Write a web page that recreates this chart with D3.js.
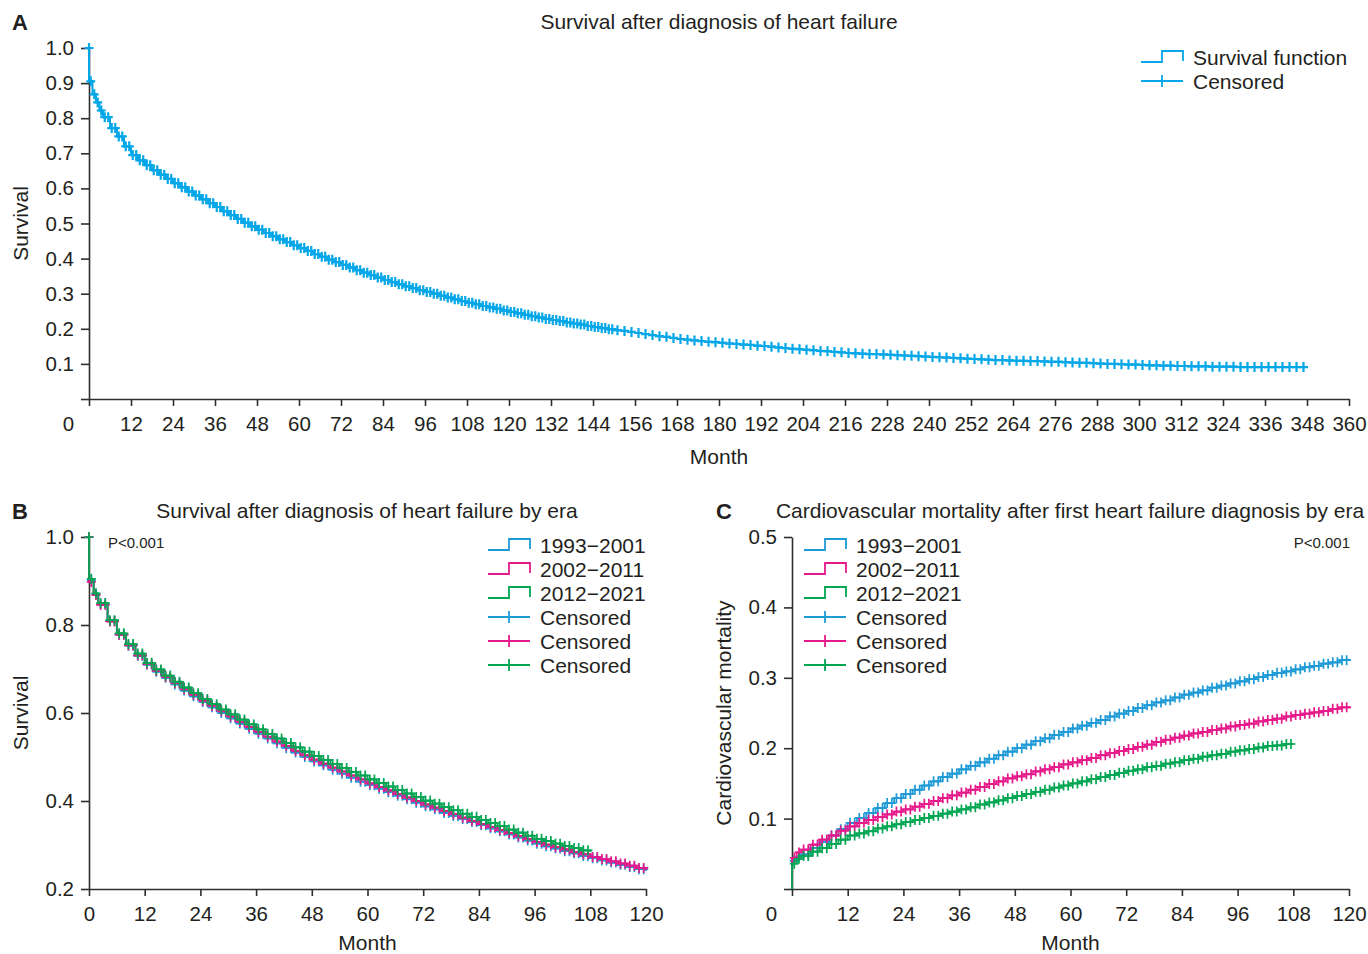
<!DOCTYPE html>
<html>
<head>
<meta charset="utf-8">
<script src="https://cdn.jsdelivr.net/npm/d3@7"></script>
<style>
body { margin: 0; background: #fff; }
text { font-family: "Liberation Sans", Arial, sans-serif; fill: #231f20; }
</style>
</head>
<body>
<script>
// ---- data ----
// panel A: overall survival, knots every 2 months after the first few
var monthsA = [0, 0, 1, 2, 3].concat(d3.range(4, 349, 2));
var survA = [1.0, 0.905, 0.868, 0.845, 0.822,
  0.803, 0.772, 0.748, 0.720, 0.695,
  0.680, 0.666, 0.652, 0.639, 0.627, 0.615,
  0.603, 0.591, 0.580, 0.569, 0.558, 0.547,
  0.535, 0.524, 0.513, 0.502, 0.492, 0.482,
  0.473, 0.464, 0.455, 0.447, 0.438, 0.430,
  0.422, 0.413, 0.405, 0.397, 0.390, 0.382,
  0.375, 0.367, 0.360, 0.353, 0.346, 0.339,
  0.333, 0.327, 0.321, 0.316, 0.310, 0.305,
  0.300, 0.294, 0.289, 0.284, 0.279, 0.274,
  0.270, 0.265, 0.261, 0.257, 0.252, 0.248,
  0.244, 0.240, 0.236, 0.232, 0.228, 0.225,
  0.222, 0.218, 0.215, 0.212, 0.208, 0.205,
  0.202, 0.199, 0.196, 0.194, 0.191, 0.188,
  0.185, 0.182, 0.179, 0.177, 0.174, 0.171,
  0.169, 0.167, 0.165, 0.163, 0.162, 0.160,
  0.158, 0.157, 0.155, 0.154, 0.152, 0.151,
  0.149, 0.147, 0.145, 0.143, 0.142, 0.140,
  0.139, 0.137, 0.136, 0.134, 0.133, 0.131,
  0.130, 0.129, 0.128, 0.128, 0.127, 0.126,
  0.125, 0.124, 0.123, 0.122, 0.121, 0.120,
  0.119, 0.118, 0.117, 0.116, 0.115, 0.114,
  0.113, 0.112, 0.111, 0.111, 0.110, 0.109,
  0.109, 0.108, 0.108, 0.107, 0.106, 0.106,
  0.105, 0.104, 0.103, 0.103, 0.102, 0.101,
  0.100, 0.100, 0.099, 0.098, 0.098, 0.097,
  0.096, 0.096, 0.095, 0.095, 0.094, 0.094,
  0.093, 0.093, 0.093, 0.092, 0.092, 0.092,
  0.092, 0.091, 0.091, 0.091, 0.091, 0.091,
  0.091, 0.091, 0.091, 0.091, 0.091, 0.091];

// panels B and C: by era
var eras = ["1993\u22122001", "2002\u22122011", "2012\u22122021"];
var monthsEra = [0, 0, 1].concat(d3.range(2, 121, 2));

var survB1993 = [1.0, 0.902, 0.870,
  0.847, 0.809, 0.778, 0.753, 0.730, 0.710,
  0.694, 0.680, 0.665, 0.651, 0.638, 0.625,
  0.613, 0.600, 0.588, 0.576, 0.564, 0.553,
  0.542, 0.531, 0.520, 0.510, 0.500, 0.490,
  0.481, 0.471, 0.462, 0.453, 0.444, 0.436,
  0.428, 0.420, 0.412, 0.404, 0.396, 0.388,
  0.381, 0.373, 0.366, 0.359, 0.352, 0.345,
  0.338, 0.331, 0.324, 0.317, 0.310, 0.303,
  0.297, 0.292, 0.286, 0.281, 0.275, 0.270,
  0.265, 0.260, 0.255, 0.250, 0.245, 0.241];
var survB2002 = [1.0, 0.898, 0.868,
  0.846, 0.808, 0.778, 0.754, 0.731, 0.711,
  0.696, 0.682, 0.668, 0.654, 0.641, 0.628,
  0.616, 0.604, 0.592, 0.580, 0.568, 0.557,
  0.546, 0.535, 0.525, 0.514, 0.504, 0.494,
  0.485, 0.476, 0.467, 0.458, 0.449, 0.440,
  0.432, 0.424, 0.416, 0.408, 0.400, 0.392,
  0.385, 0.377, 0.370, 0.362, 0.355, 0.348,
  0.341, 0.334, 0.327, 0.320, 0.314, 0.307,
  0.301, 0.295, 0.290, 0.284, 0.279, 0.273,
  0.268, 0.263, 0.258, 0.253, 0.248, 0.243];
var survB2012 = [1.0, 0.905, 0.872,
  0.850, 0.811, 0.781, 0.757, 0.735, 0.714,
  0.699, 0.685, 0.671, 0.658, 0.645, 0.632,
  0.620, 0.608, 0.597, 0.585, 0.574, 0.563,
  0.552, 0.542, 0.532, 0.522, 0.512, 0.502,
  0.493, 0.484, 0.475, 0.466, 0.458, 0.449,
  0.441, 0.433, 0.425, 0.417, 0.409, 0.401,
  0.394, 0.386, 0.379, 0.371, 0.364, 0.357,
  0.350, 0.343, 0.335, 0.328, 0.321, 0.314,
  0.309, 0.303, 0.298, 0.293, 0.288, 0.284];

var cvmC1993 = [0, 0.040, 0.046,
  0.049, 0.058, 0.067, 0.076, 0.085, 0.094,
  0.101, 0.108, 0.115, 0.122, 0.129, 0.135,
  0.141, 0.147, 0.153, 0.159, 0.164, 0.170,
  0.175, 0.180, 0.185, 0.190, 0.195, 0.200,
  0.205, 0.210, 0.214, 0.219, 0.223, 0.228,
  0.232, 0.236, 0.240, 0.245, 0.249, 0.253,
  0.257, 0.261, 0.265, 0.268, 0.272, 0.276,
  0.279, 0.282, 0.286, 0.289, 0.292, 0.295,
  0.298, 0.301, 0.304, 0.307, 0.309, 0.312,
  0.315, 0.317, 0.320, 0.322, 0.325, 0.327];
var cvmC2002 = [0, 0.044, 0.052,
  0.056, 0.063, 0.070, 0.076, 0.083, 0.089,
  0.094, 0.098, 0.102, 0.106, 0.110, 0.113,
  0.117, 0.121, 0.125, 0.129, 0.133, 0.137,
  0.141, 0.145, 0.149, 0.153, 0.157, 0.160,
  0.163, 0.167, 0.170, 0.173, 0.177, 0.180,
  0.183, 0.186, 0.190, 0.193, 0.196, 0.199,
  0.202, 0.205, 0.209, 0.212, 0.215, 0.218,
  0.221, 0.223, 0.226, 0.228, 0.231, 0.233,
  0.235, 0.238, 0.240, 0.242, 0.245, 0.247,
  0.249, 0.251, 0.253, 0.256, 0.258, 0.260];
var cvmC2012 = [0, 0.036, 0.043,
  0.047, 0.053, 0.058, 0.064, 0.070, 0.076,
  0.079, 0.082, 0.086, 0.089, 0.092, 0.095,
  0.098, 0.101, 0.104, 0.107, 0.110, 0.113,
  0.116, 0.120, 0.123, 0.126, 0.129, 0.132,
  0.135, 0.138, 0.141, 0.144, 0.147, 0.150,
  0.153, 0.156, 0.159, 0.162, 0.165, 0.168,
  0.170, 0.173, 0.175, 0.178, 0.180, 0.183,
  0.185, 0.188, 0.190, 0.192, 0.195, 0.197,
  0.199, 0.201, 0.203, 0.204, 0.206, 0.206];

// ticks
var xTicksA = d3.range(0, 361, 12);
var yTicksA = [0, 0.1, 0.2, 0.3, 0.4, 0.5, 0.6, 0.7, 0.8, 0.9, 1.0];
var xTicksEra = d3.range(0, 121, 12);
var yTicksB = [0.2, 0.4, 0.6, 0.8, 1.0];
var yTicksC = [0, 0.1, 0.2, 0.3, 0.4, 0.5];

var blueA = "#05a7e8";
var eraColors = ["#1e9ad6", "#e6198b", "#00a651"];
var axisColor = "#2e2e2e";

var svg = d3.select("body").append("svg")
  .attr("width", 1368)
  .attr("height", 954);

var fmt = d3.format(".1f");

// builds the axes for one panel and returns its scales
function panel(p) {
  var x = d3.scaleLinear().domain([0, p.xMax]).range([p.left, p.right]);
  var y = d3.scaleLinear().domain([p.yMin, p.yMax]).range([p.bottom, p.top]);

  var ya = svg.append("g")
    .attr("transform", "translate(" + p.left + ",0)")
    .call(d3.axisLeft(y).tickValues(p.yTicks).tickSize(8).tickSizeOuter(0).tickPadding(7)
      .tickFormat(function(d) { return d === 0 ? "" : fmt(d); }));
  var xa = svg.append("g")
    .attr("transform", "translate(0," + p.bottom + ")")
    .call(d3.axisBottom(x).tickValues(p.xTicks).tickSize(7).tickSizeOuter(0).tickPadding(10));

  [ya, xa].forEach(function(a) {
    a.attr("color", axisColor).attr("font-size", 20.5)
      .attr("font-family", "'Liberation Sans', Arial, sans-serif");
    a.selectAll("path, line").attr("stroke-width", 1.6);
    a.selectAll("text").attr("fill", "#231f20");
  });
  if (p.zeroShift) {
    xa.selectAll(".tick text").filter(function(d) { return d === 0; }).attr("dx", p.zeroShift);
  }

  svg.append("text").attr("x", p.letterX).attr("y", p.titleY + 1)
    .attr("font-size", 22).attr("font-weight", "bold").text(p.letter);
  svg.append("text").attr("x", p.titleX).attr("y", p.titleY)
    .attr("text-anchor", "middle").attr("font-size", 21).text(p.title);
  svg.append("text").attr("x", (p.left + p.right) / 2).attr("y", p.monthY)
    .attr("text-anchor", "middle").attr("font-size", 21).text("Month");
  svg.append("text")
    .attr("transform", "translate(" + p.ylabX + "," + (p.top + p.bottom) / 2 + ") rotate(-90)")
    .attr("text-anchor", "middle").attr("font-size", 21).text(p.ylab);
  return { x: x, y: y };
}

// step curve plus its censor ticks
function km(sc, months, vals, color, gap, markStart, lw, mw) {
  var pts = vals.map(function(v, i) { return [months[i], v]; });
  var line = d3.line()
    .x(function(d) { return sc.x(d[0]); })
    .y(function(d) { return sc.y(d[1]); })
    .curve(d3.curveStepAfter);
  svg.append("path").datum(pts)
    .attr("d", line)
    .attr("fill", "none")
    .attr("stroke", color)
    .attr("stroke-width", lw);

  var marks = markStart ? [pts[0]] : [];
  for (var i = 0; i < pts.length - 1; i++) {
    var dt = pts[i + 1][0] - pts[i][0];
    if (dt <= 0) continue;
    var n = Math.max(1, Math.round(dt / gap(pts[i][0])));
    for (var k = 0; k < n; k++) marks.push([pts[i][0] + (k + 0.5) * dt / n, pts[i][1]]);
  }
  svg.append("g").selectAll("path")
    .data(marks)
    .enter().append("path")
    .attr("d", "M-4.5,0H4.5M0,-5V5")
    .attr("transform", function(d) { return "translate(" + sc.x(d[0]) + "," + sc.y(d[1]) + ")"; })
    .attr("fill", "none")
    .attr("stroke", color)
    .attr("stroke-width", mw);
}

function legend(x0, y0, items) {
  items.forEach(function(it, i) {
    var cy = y0 + i * 24;
    var d = it.step
      ? "M" + x0 + "," + (cy + 5) + "H" + (x0 + 21) + "V" + (cy - 6) + "H" + (x0 + 42) + "V" + (cy + 4)
      : "M" + x0 + "," + cy + "H" + (x0 + 42) + "M" + (x0 + 21) + "," + (cy - 6) + "V" + (cy + 6);
    svg.append("path").attr("d", d).attr("fill", "none")
      .attr("stroke", it.color).attr("stroke-width", 1.8);
    svg.append("text").attr("x", x0 + 52).attr("y", cy).attr("dy", "0.36em")
      .attr("font-size", 21).text(it.label);
  });
}

// ---- panel A ----
var scA = panel({
  left: 89, right: 1349, top: 48, bottom: 399,
  xMax: 360, yMin: 0, yMax: 1, xTicks: xTicksA, yTicks: yTicksA, zeroShift: -21,
  letter: "A", letterX: 12, title: "Survival after diagnosis of heart failure",
  titleX: 719, titleY: 29, ylab: "Survival", ylabX: 28, monthY: 464
});
km(scA, monthsA, survA, blueA, function(t) { return t < 150 ? 1 : 2; }, true, 2, 2.2);
legend(1141, 57, [
  { step: true, color: blueA, label: "Survival function" },
  { step: false, color: blueA, label: "Censored" }
]);

// ---- panel B ----
var scB = panel({
  left: 89, right: 646, top: 537, bottom: 889,
  xMax: 120, yMin: 0.2, yMax: 1, xTicks: xTicksEra, yTicks: yTicksB,
  letter: "B", letterX: 12, title: "Survival after diagnosis of heart failure by era",
  titleX: 367, titleY: 518, ylab: "Survival", ylabX: 28, monthY: 950
});
var seriesB = [survB1993, survB2002, survB2012];
seriesB.forEach(function(s, i) {
  km(scB, monthsEra, s, eraColors[i], function() { return 1; }, true, 1.8, 1.7);
});
svg.append("text").attr("x", 108).attr("y", 548).attr("font-size", 15).text("P<0.001");
legend(488, 545, eras.map(function(e, i) { return { step: true, color: eraColors[i], label: e }; })
  .concat(eras.map(function(e, i) { return { step: false, color: eraColors[i], label: "Censored" }; })));

// ---- panel C ----
var scC = panel({
  left: 792, right: 1349, top: 537, bottom: 889,
  xMax: 120, yMin: 0, yMax: 0.5, xTicks: xTicksEra, yTicks: yTicksC, zeroShift: -21,
  letter: "C", letterX: 716, title: "Cardiovascular mortality after first heart failure diagnosis by era",
  titleX: 1070, titleY: 518, ylab: "Cardiovascular mortality", ylabX: 731, monthY: 950
});
var seriesC = [cvmC1993, cvmC2002, cvmC2012];
seriesC.forEach(function(s, i) {
  km(scC, monthsEra, s, eraColors[i], function() { return 1; }, false, 1.8, 1.7);
});
svg.append("text").attr("x", 1350).attr("y", 548).attr("text-anchor", "end")
  .attr("font-size", 15).text("P<0.001");
legend(804, 545, eras.map(function(e, i) { return { step: true, color: eraColors[i], label: e }; })
  .concat(eras.map(function(e, i) { return { step: false, color: eraColors[i], label: "Censored" }; })));
</script>
</body>
</html>
